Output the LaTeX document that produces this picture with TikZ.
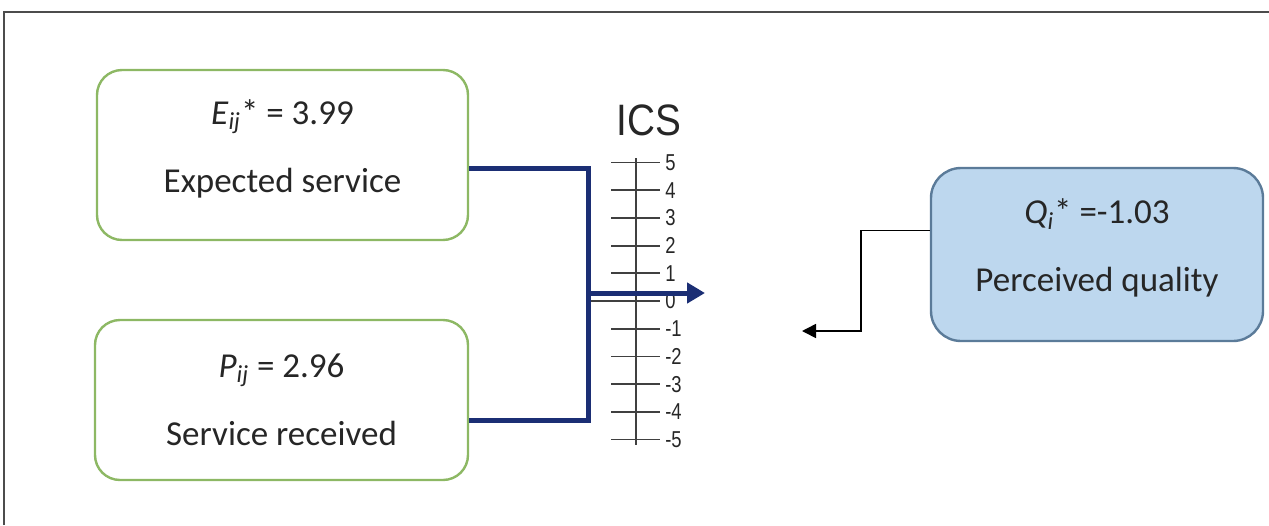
\documentclass[tikz,border=0pt]{standalone}
\usepackage{fontspec}
\setmainfont{Carlito}
\newfontfamily\arialfont{Liberation Sans}
\usetikzlibrary{positioning,arrows.meta}

\definecolor{boxgreen}{HTML}{8DB864}
\definecolor{qfill}{HTML}{BDD7EE}
\definecolor{qdraw}{HTML}{5B7B99}
\definecolor{navyline}{HTML}{1B2E74}
\definecolor{textgray}{HTML}{262626}

\begin{document}
\begin{tikzpicture}[x=0.5pt, y=-0.5pt, >={Triangle[length=7pt,width=7pt]},
  every node/.style={text=textgray},
  box text/.style={font=\fontsize{17.5}{34}\selectfont, align=center},
  green box/.style={box text, draw=boxgreen, line width=1.2pt, fill=white, rounded corners=12.5pt},
  blue box/.style={box text, draw=qdraw, line width=1.2pt, fill=qfill, rounded corners=15pt},
  scale label/.style={font=\arialfont\fontsize{11.5}{12}\selectfont, anchor=west, inner sep=0pt, xscale=0.8},
  scale line/.style={line width=0.9pt, draw=black!75},
  navy/.style={draw=navyline, line width=2.5pt}]

\useasboundingbox (0,0) rectangle (1269,525);

% frame
\draw [line width=1.4pt, draw=black!70] (4,525) -- (4,12) -- (1269,12);

% boxes
\node [green box, minimum width=185.5pt, minimum height=85pt, text depth=9pt] (expected) at (282.5,155)
  {\textit{E}\textsubscript{\textit{ij}}* = 3.99\\Expected service};
\node [green box, minimum width=186.5pt, minimum height=80pt] (received) at (281.5,400)
  {\textit{P}\textsubscript{\textit{ij}} = 2.96\\Service received};
\node [blue box, minimum width=166pt, minimum height=86.5pt, text depth=9pt] (quality) at (1097,254.5)
  {\textit{Q}\textsubscript{\textit{i}}* =-1.03\\Perceived quality};

% ICS scale
\node [font=\arialfont\fontsize{22}{24}\selectfont, xscale=0.88] (ics) at (649,120) {ICS};
\draw [scale line] (636,158) -- (636,445);
\foreach \k in {5,4,...,-5}
  {
  \coordinate (tick-\k) at (611,301-\k*27.7);
  \draw [scale line] (tick-\k) -- ++(49,0);
  \node [scale label] (lab-\k) at (665,301-\k*27.7) {\k};
  }
\draw [scale line] (590,301) -- (tick-0);

% connectors
\coordinate (join) at (588,293);
\coordinate (ics-tip) at (705,293);
\draw [navy] ([yshift=-6.5pt]expected.east) -| (join) |- ([yshift=-10pt]received.east);
\draw [navy, -{Triangle[length=9pt,width=10pt]}] (join) -- (ics-tip);

\coordinate (q-tip) at (802,331);
\draw [->, line width=0.8pt] ([yshift=12pt]quality.west) -- ++(-69,0) |- (q-tip);

\end{tikzpicture}
\end{document}
